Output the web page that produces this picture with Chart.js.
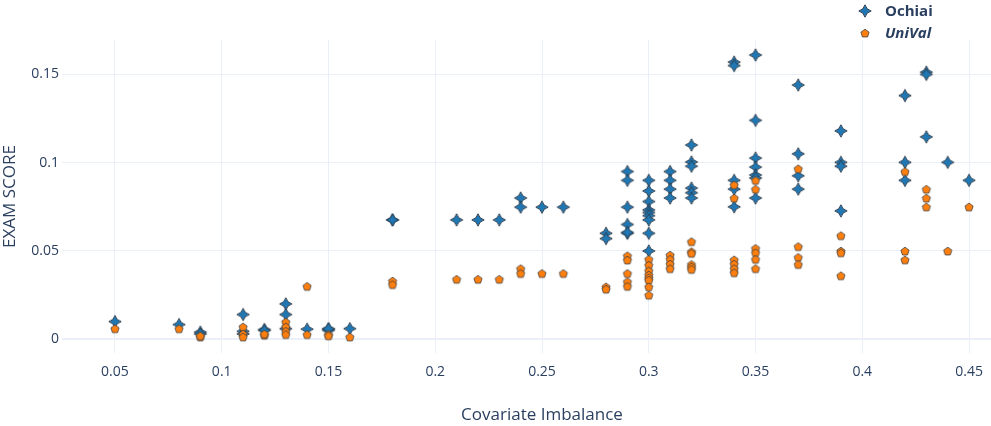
<!DOCTYPE html>
<html>
<head>
<meta charset="utf-8">
<script src="https://cdn.jsdelivr.net/npm/chart.js@4.4.1/dist/chart.umd.min.js"></script>
<style>
  html, body { margin: 0; padding: 0; background: #fff; overflow: hidden; }
  #wrap { width: 1060px; height: 426px; }
</style>
</head>
<body>
<div id="wrap"><canvas id="scatterChart"></canvas></div>
<script>
// Covariate imbalance (x) against EXAM score (y)
const ochiaiX = [
  0.05, 0.08, 0.09, 0.09, 0.11, 0.11, 0.11, 0.12, 0.12, 0.13, 0.13, 0.13,
  0.14, 0.15, 0.15, 0.15, 0.16, 0.18, 0.18, 0.21, 0.22, 0.23, 0.24, 0.24,
  0.25, 0.26, 0.28, 0.28,
  0.29, 0.29, 0.29, 0.29, 0.29, 0.29,
  0.30, 0.30, 0.30, 0.30, 0.30, 0.30, 0.30, 0.30, 0.30,
  0.31, 0.31, 0.31, 0.31,
  0.32, 0.32, 0.32, 0.32, 0.32, 0.32,
  0.34, 0.34, 0.34, 0.34, 0.34,
  0.35, 0.35, 0.35, 0.35, 0.35, 0.35, 0.35,
  0.37, 0.37, 0.37, 0.37,
  0.39, 0.39, 0.39, 0.39,
  0.42, 0.42, 0.42,
  0.43, 0.43, 0.43,
  0.44, 0.45
];
const ochiaiY = [
  0.010, 0.0083, 0.004, 0.003, 0.014, 0.0045, 0.003, 0.0055, 0.005, 0.020, 0.014, 0.006,
  0.0057, 0.0057, 0.005, 0.006, 0.006, 0.0676, 0.0676, 0.0676, 0.0676, 0.0676, 0.080, 0.0748,
  0.0748, 0.0748, 0.060, 0.057,
  0.095, 0.090, 0.0748, 0.065, 0.060, 0.0605,
  0.090, 0.084, 0.078, 0.0733, 0.0718, 0.070, 0.0676, 0.060, 0.050,
  0.095, 0.090, 0.085, 0.080,
  0.110, 0.1004, 0.098, 0.0856, 0.083, 0.080,
  0.157, 0.155, 0.090, 0.085, 0.075,
  0.161, 0.124, 0.1026, 0.0975, 0.093, 0.0913, 0.080,
  0.144, 0.105, 0.0926, 0.085,
  0.118, 0.1002, 0.098, 0.0727,
  0.138, 0.1002, 0.090,
  0.1513, 0.150, 0.1146,
  0.1002, 0.090
];

const univalX = [
  0.05, 0.08, 0.09, 0.09, 0.11, 0.11, 0.11, 0.12, 0.12, 0.13, 0.13, 0.13, 0.13,
  0.14, 0.14, 0.15, 0.15, 0.16, 0.18, 0.18, 0.21, 0.22, 0.23, 0.24, 0.24,
  0.25, 0.26, 0.28, 0.28,
  0.29, 0.29, 0.29, 0.29, 0.29,
  0.30, 0.30, 0.30, 0.30, 0.30, 0.30, 0.30, 0.30,
  0.31, 0.31, 0.31, 0.31,
  0.32, 0.32, 0.32, 0.32, 0.32, 0.32,
  0.34, 0.34, 0.34, 0.34, 0.34, 0.34,
  0.35, 0.35, 0.35, 0.35, 0.35, 0.35,
  0.37, 0.37, 0.37, 0.37,
  0.39, 0.39, 0.39, 0.39,
  0.42, 0.42, 0.42,
  0.43, 0.43, 0.43,
  0.44, 0.45
];
const univalY = [
  0.006, 0.006, 0.0013, 0.002, 0.007, 0.003, 0.0013, 0.0023, 0.003, 0.0098, 0.007, 0.0045, 0.0027,
  0.030, 0.0027, 0.0027, 0.002, 0.0013, 0.033, 0.031, 0.034, 0.034, 0.034, 0.040, 0.0373,
  0.0373, 0.0373, 0.0297, 0.0284,
  0.0473, 0.0449, 0.0373, 0.0326, 0.030,
  0.0453, 0.042, 0.0388, 0.0364, 0.0348, 0.0335, 0.0297, 0.025,
  0.0477, 0.0453, 0.0426, 0.040,
  0.0553, 0.0496, 0.0487, 0.0424, 0.041, 0.0396,
  0.0875, 0.080, 0.045, 0.0426, 0.040, 0.0377,
  0.090, 0.085, 0.0515, 0.049, 0.0453, 0.040,
  0.0966, 0.0525, 0.0464, 0.0424,
  0.0587, 0.050, 0.049, 0.036,
  0.095, 0.050, 0.045,
  0.085, 0.080, 0.075,
  0.050, 0.075
];

const xTicks = [0.05, 0.1, 0.15, 0.2, 0.25, 0.3, 0.35, 0.4, 0.45];
const yTicks = [0, 0.05, 0.1, 0.15];
const seriesNames = ['Ochiai', 'UniVal'];

const TEXT = '#2a3f5f';
const GRID = '#ebf0f8';
const FONT = '"Open Sans", verdana, arial, sans-serif';

function pairUp(xs, ys) {
    return xs.map((x, i) => ({ x: x, y: ys[i] }));
}

// marker glyphs drawn once onto small canvases
function starDiamond(r, fill, stroke) {
    const size = Math.ceil(r * 2 + 3);
    const c = document.createElement('canvas');
    c.width = size; c.height = size;
    const g = c.getContext('2d');
    const m = size / 2, k = r * 0.2;
    g.beginPath();
    g.moveTo(m, m - r);
    g.quadraticCurveTo(m + k, m - k, m + r, m);
    g.quadraticCurveTo(m + k, m + k, m, m + r);
    g.quadraticCurveTo(m - k, m + k, m - r, m);
    g.quadraticCurveTo(m - k, m - k, m, m - r);
    g.closePath();
    g.fillStyle = fill;
    g.fill();
    g.lineWidth = 1;
    g.strokeStyle = stroke;
    g.stroke();
    return c;
}

function pentagon(r, fill, stroke) {
    const size = Math.ceil(r * 2 + 3);
    const c = document.createElement('canvas');
    c.width = size; c.height = size;
    const g = c.getContext('2d');
    const m = size / 2;
    g.beginPath();
    for (let i = 0; i < 5; i++) {
        const a = -Math.PI / 2 + i * 2 * Math.PI / 5;
        const px = m + r * Math.cos(a), py = m + 0.5 + r * Math.sin(a);
        if (i === 0) g.moveTo(px, py); else g.lineTo(px, py);
    }
    g.closePath();
    g.fillStyle = fill;
    g.fill();
    g.lineWidth = 0.8;
    g.strokeStyle = stroke;
    g.stroke();
    return c;
}

const blueMark = starDiamond(6.2, '#1f77b4', '#2f3f4f');
const orangeMark = pentagon(4.3, '#ff7f0e', '#3f3f3f');

// legend in the top right, Plotly style
const legendPlugin = {
    id: 'cornerLegend',
    afterDraw(chart) {
        const ctx = chart.ctx;
        const rows = [
            { mark: blueMark, text: seriesNames[0], style: 'bold', y: 11 },
            { mark: orangeMark, text: seriesNames[1], style: 'italic bold', y: 33 }
        ];
        ctx.save();
        rows.forEach(r => {
            ctx.drawImage(r.mark, 865 - r.mark.width / 2, r.y - r.mark.height / 2);
            ctx.font = r.style + ' 15px ' + FONT;
            ctx.fillStyle = TEXT;
            ctx.textBaseline = 'middle';
            ctx.textAlign = 'left';
            ctx.fillText(r.text, 885, r.y + 1);
        });
        ctx.restore();
    }
};

const ctx = document.getElementById('scatterChart').getContext('2d');
const scatterChart = new Chart(ctx, {
    type: 'scatter',
    data: {
        datasets: [{
            label: seriesNames[0],
            data: pairUp(ochiaiX, ochiaiY),
            pointStyle: blueMark,
            order: 1
        }, {
            label: seriesNames[1],
            data: pairUp(univalX, univalY),
            pointStyle: orangeMark,
            order: 0
        }]
    },
    options: {
        responsive: true,
        maintainAspectRatio: false,
        animation: false,
        events: [],
        layout: {
            padding: { top: 40, right: 38, left: 0, bottom: 0 }
        },
        plugins: {
            legend: { display: false },
            tooltip: { enabled: false }
        },
        scales: {
            x: {
                type: 'linear',
                min: 0.0252,
                max: 0.4748,
                afterBuildTicks: function(scale) {
                    scale.ticks = xTicks.map(v => ({ value: v }));
                },
                afterFit: function(scale) {
                    scale.height = 73;
                },
                border: { display: false },
                grid: { color: GRID, drawTicks: false },
                ticks: {
                    padding: 11,
                    color: TEXT,
                    font: { family: FONT, size: 14 },
                    maxRotation: 0,
                    callback: function(value) {
                        return String(+value.toFixed(3));
                    }
                },
                title: {
                    display: true,
                    text: 'Covariate Imbalance',
                    color: TEXT,
                    font: { family: FONT, size: 17 },
                    padding: { top: 0, bottom: 1 }
                }
            },
            y: {
                type: 'linear',
                min: -0.0078,
                max: 0.1695,
                afterBuildTicks: function(scale) {
                    scale.ticks = yTicks.map(v => ({ value: v }));
                },
                afterFit: function(scale) {
                    scale.width = 62;
                },
                border: { display: false },
                grid: {
                    drawTicks: false,
                    color: GRID,
                    lineWidth: function(c) {
                        return c.tick && c.tick.value === 0 ? 2 : 1;
                    }
                },
                ticks: {
                    padding: 3,
                    color: TEXT,
                    font: { family: FONT, size: 14 },
                    callback: function(value) {
                        return String(+value.toFixed(3));
                    }
                },
                title: {
                    display: true,
                    text: 'EXAM SCORE',
                    color: TEXT,
                    font: { family: FONT, size: 17 },
                    padding: { top: 0, bottom: 0 }
                }
            }
        }
    },
    plugins: [legendPlugin]
});
</script>
</body>
</html>
